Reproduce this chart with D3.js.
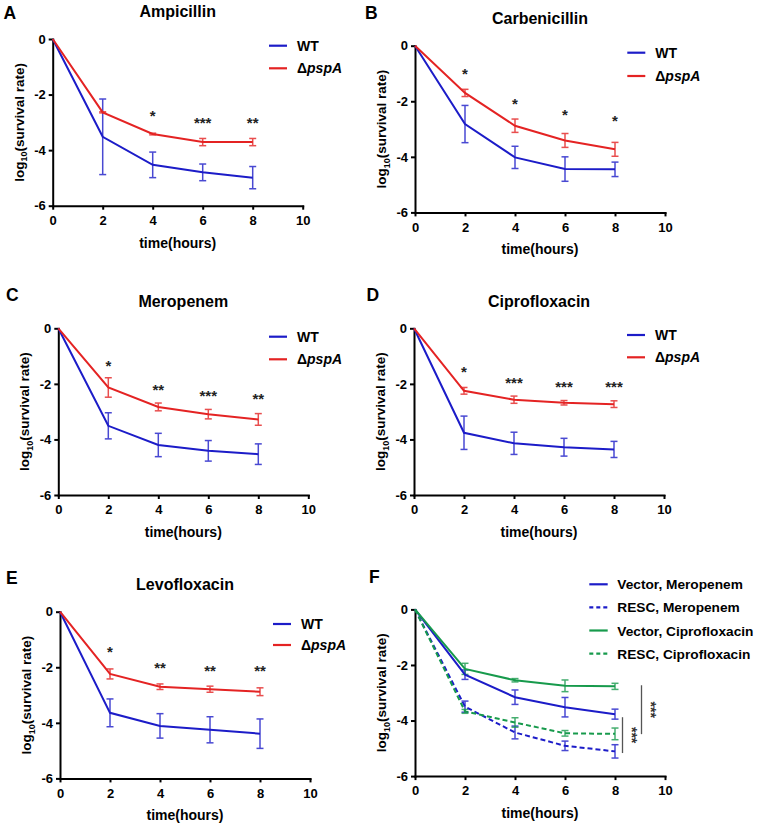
<!DOCTYPE html>
<html><head><meta charset="utf-8">
<script src="https://cdn.jsdelivr.net/npm/d3@7"></script>
<style>html,body{margin:0;padding:0;background:#fff;}</style>
</head><body>
<svg id="chart" width="758" height="825"></svg>
<script>
// ---------------- DATA ----------------
const times = [0, 2, 4, 6, 8];
const xTicks = [0, 2, 4, 6, 8, 10];
const yTicks = [0, -2, -4, -6];
const titles = ["Ampicillin", "Carbenicillin", "Meropenem", "Ciprofloxacin", "Levofloxacin", ""];
const panelLetters = ["A", "B", "C", "D", "E", "F"];
const seriesNamesWT = ["WT", "ΔpspA"];
const seriesNamesF = ["Vector, Meropenem", "RESC, Meropenem", "Vector, Ciprofloxacin", "RESC, Ciprofloxacin"];

// A: Ampicillin
const ampWT = [0, -3.52, -4.53, -4.80, -4.99];
const ampWTsd = [0, 1.36, 0.46, 0.30, 0.40];
const ampPsp = [0, -2.64, -3.42, -3.71, -3.71];
const ampPspSd = [0, 0.02, 0.03, 0.13, 0.13];
const ampStars = ["", "", "*", "***", "**"];
const ampStarY = [0, 0, -2.65, -2.88, -2.88];
// B: Carbenicillin
const carWT = [0, -2.82, -4.02, -4.44, -4.45];
const carWTsd = [0, 0.67, 0.40, 0.44, 0.26];
const carPsp = [0, -1.70, -2.88, -3.41, -3.73];
const carPspSd = [0, 0.13, 0.24, 0.25, 0.25];
const carStars = ["", "*", "*", "*", "*"];
const carStarY = [0, -0.89, -1.98, -2.36, -2.58];
// C: Meropenem
const merWT = [0, -3.51, -4.20, -4.41, -4.53];
const merWTsd = [0, 0.47, 0.42, 0.37, 0.37];
const merPsp = [0, -2.13, -2.83, -3.09, -3.28];
const merPspSd = [0, 0.35, 0.14, 0.17, 0.21];
const merStars = ["", "*", "**", "***", "**"];
const merStarY = [0, -1.22, -2.08, -2.31, -2.40];
// D: Ciprofloxacin
const ciWT = [0, -3.76, -4.14, -4.28, -4.36];
const ciWTsd = [0, 0.60, 0.40, 0.32, 0.29];
const ciPsp = [0, -2.25, -2.57, -2.68, -2.73];
const ciPspSd = [0, 0.12, 0.13, 0.08, 0.12];
const ciStars = ["", "*", "***", "***", "***"];
const ciStarY = [0, -1.43, -1.84, -1.98, -2.00];
// E: Levofloxacin
const levWT = [0, -3.64, -4.11, -4.25, -4.39];
const levWTsd = [0, 0.50, 0.44, 0.47, 0.53];
const levPsp = [0, -2.24, -2.70, -2.79, -2.88];
const levPspSd = [0, 0.18, 0.10, 0.11, 0.14];
const levStars = ["", "*", "**", "**", "**"];
const levStarY = [0, -1.32, -1.90, -1.99, -2.02];
// F: complementation
const vecMer = [0, -2.35, -3.16, -3.52, -3.77];
const vecMerSd = [0, 0.17, 0.26, 0.35, 0.18];
const rescMer = [0, -3.50, -4.43, -4.91, -5.11];
const rescMerSd = [0, 0.20, 0.23, 0.17, 0.24];
const vecCip = [0, -2.14, -2.55, -2.75, -2.77];
const vecCipSd = [0, 0.20, 0.06, 0.21, 0.11];
const rescCip = [0, -3.67, -4.07, -4.46, -4.48];
const rescCipSd = [0, 0.07, 0.17, 0.10, 0.21];
const fBracketX = [8.3, 9.06];
const fBracketFrom = [-3.88, -2.73];
const fBracketTo = [-5.17, -4.49];
const fBracketLabel = ["***", "***"];

// ---------------- STYLE / LAYOUT ----------------
const FONT = "Arial, 'Liberation Sans', Helvetica, sans-serif";
const BLUE = "#1c1cc8", RED = "#e42323", GREEN = "#179a4c";
const PW = 250, PH = 166.7;
const layout = [
  {left: 52.7, top: 39.0, lx: 3.5, ly: 18.7, legX: 269.0, legY: 45.7, legDy: 22.6},
  {left: 415.0, top: 45.7, lx: 365.0, ly: 18.7, legX: 627.3, legY: 52.7, legDy: 23.3},
  {left: 58.3, top: 328.3, lx: 6.0, ly: 301.0, legX: 269.0, legY: 336.7, legDy: 22.6},
  {left: 414.0, top: 328.3, lx: 366.5, ly: 301.0, legX: 627.0, legY: 335.0, legDy: 22.3},
  {left: 60.0, top: 611.7, lx: 6.0, ly: 584.3, legX: 273.0, legY: 624.0, legDy: 21.0},
  {left: 415.0, top: 609.4, lx: 369.0, ly: 582.7, legX: 589.3, legY: 584.3, legDy: 23.1}
];

const svg = d3.select("#chart");
svg.append("rect").attr("width", 758).attr("height", 825).attr("fill", "#fff");

function drawPanel(idx, series, stars, starY) {
  const L = layout[idx];
  const g = svg.append("g");
  const x = d3.scaleLinear().domain([0, 10]).range([L.left, L.left + PW]);
  const y = d3.scaleLinear().domain([0, -6]).range([L.top, L.top + PH]);

  // axes
  const xa = g.append("g").attr("transform", `translate(0,${y(-6)})`)
    .call(d3.axisBottom(x).tickValues(xTicks).tickSize(4).tickSizeOuter(0).tickPadding(6).tickFormat(d => String(d)));
  const ya = g.append("g").attr("transform", `translate(${x(0)},0)`)
    .call(d3.axisLeft(y).tickValues(yTicks).tickSize(4).tickSizeOuter(0).tickPadding(3).tickFormat(d => String(d)));
  [xa, ya].forEach(a => {
    a.select(".domain").attr("stroke", "#000").attr("stroke-width", 2).attr("stroke-linecap", "square");
    a.selectAll(".tick line").attr("stroke", "#000").attr("stroke-width", 2);
    a.selectAll(".tick text").attr("fill", "#000").style("font-family", FONT)
      .style("font-size", "13px").style("font-weight", "bold");
  });

  // error bars
  series.forEach(s => {
    const eg = g.append("g").attr("stroke", s.color).attr("stroke-width", 1.5).attr("opacity", 0.8);
    times.forEach((t, i) => {
      if (i === 0) return;
      const cx = x(t), y1 = y(s.vals[i] + s.sd[i]), y2 = y(s.vals[i] - s.sd[i]);
      eg.append("line").attr("x1", cx).attr("x2", cx).attr("y1", y1).attr("y2", y2);
      eg.append("line").attr("x1", cx - 3.5).attr("x2", cx + 3.5).attr("y1", y1).attr("y2", y1);
      eg.append("line").attr("x1", cx - 3.5).attr("x2", cx + 3.5).attr("y1", y2).attr("y2", y2);
    });
  });
  // lines
  const line = d3.line().x((d, i) => x(times[i])).y(d => y(d));
  series.forEach(s => {
    g.append("path").attr("d", line(s.vals)).attr("fill", "none")
      .attr("stroke", s.color).attr("stroke-width", 2)
      .attr("stroke-dasharray", s.dash ? "5,3" : null);
  });

  // stars
  if (stars) {
    times.forEach((t, i) => {
      if (!stars[i]) return;
      g.append("text").attr("x", x(t)).attr("y", y(starY[i]) + 8.6)
        .attr("text-anchor", "middle").style("font-family", FONT)
        .style("font-size", "15px").style("font-weight", "bold").attr("fill", "#222")
        .text(stars[i]);
    });
  }

  // title
  if (titles[idx]) {
    g.append("text").attr("x", (x(0) + x(10)) / 2).attr("y", L.top - 21.6)
      .attr("text-anchor", "middle").style("font-family", FONT)
      .style("font-size", "16px").style("font-weight", "bold").text(titles[idx]);
  }
  // panel letter
  g.append("text").attr("x", L.lx).attr("y", L.ly).style("font-family", FONT)
    .style("font-size", "17.5px").style("font-weight", "bold").text(panelLetters[idx]);

  // x label
  g.append("text").attr("x", (x(0) + x(10)) / 2).attr("y", y(-6) + 42)
    .attr("text-anchor", "middle").style("font-family", FONT)
    .style("font-size", "14px").style("font-weight", "bold").text("time(hours)");
  // y label
  const yl = g.append("text")
    .attr("transform", `translate(${x(0) - 29},${(y(0) + y(-6)) / 2}) rotate(-90)`)
    .attr("text-anchor", "middle").style("font-family", FONT)
    .style("font-size", "13.5px").style("font-weight", "bold");
  yl.append("tspan").text("log");
  yl.append("tspan").attr("dy", 3.5).style("font-size", "9px").text("10");
  yl.append("tspan").attr("dy", -3.5).text("(survival rate)");

  return {g, x, y, L};
}

function legendWT(P) {
  const L = P.L;
  const items = [{c: BLUE}, {c: RED}];
  items.forEach((it, i) => {
    const yy = L.legY + i * L.legDy;
    P.g.append("line").attr("x1", L.legX).attr("x2", L.legX + 18).attr("y1", yy).attr("y2", yy)
      .attr("stroke", it.c).attr("stroke-width", 2.2);
    const t = P.g.append("text").attr("x", L.legX + 28).attr("y", yy + 5)
      .style("font-family", FONT).style("font-size", "14px").style("font-weight", "bold");
    if (i === 0) t.text(seriesNamesWT[0]);
    else {
      t.append("tspan").text(seriesNamesWT[1].slice(0, 1));
      t.append("tspan").style("font-style", "italic").text(seriesNamesWT[1].slice(1));
    }
  });
}

const wtPanels = [
  [ampWT, ampWTsd, ampPsp, ampPspSd, ampStars, ampStarY],
  [carWT, carWTsd, carPsp, carPspSd, carStars, carStarY],
  [merWT, merWTsd, merPsp, merPspSd, merStars, merStarY],
  [ciWT, ciWTsd, ciPsp, ciPspSd, ciStars, ciStarY],
  [levWT, levWTsd, levPsp, levPspSd, levStars, levStarY]
];
wtPanels.forEach((p, idx) => {
  const P = drawPanel(idx, [
    {vals: p[0], sd: p[1], color: BLUE},
    {vals: p[2], sd: p[3], color: RED}
  ], p[4], p[5]);
  legendWT(P);
});

// Panel F
const fSeries = [
  {vals: vecMer, sd: vecMerSd, color: BLUE, dash: false},
  {vals: rescMer, sd: rescMerSd, color: BLUE, dash: true},
  {vals: vecCip, sd: vecCipSd, color: GREEN, dash: false},
  {vals: rescCip, sd: rescCipSd, color: GREEN, dash: true}
];
const PF = drawPanel(5, fSeries, null, null);
fSeries.forEach((s, i) => {
  const L = PF.L, yy = L.legY + i * L.legDy;
  PF.g.append("line").attr("x1", L.legX).attr("x2", L.legX + 18.4).attr("y1", yy).attr("y2", yy)
    .attr("stroke", s.color).attr("stroke-width", 2.2).attr("stroke-dasharray", s.dash ? "4,3" : null);
  PF.g.append("text").attr("x", L.legX + 28).attr("y", yy + 5)
    .style("font-family", FONT).style("font-size", "13.7px").style("font-weight", "bold")
    .text(seriesNamesF[i]);
});
fBracketX.forEach((bx, i) => {
  const xx = PF.x(bx);
  PF.g.append("line").attr("x1", xx).attr("x2", xx)
    .attr("y1", PF.y(fBracketFrom[i])).attr("y2", PF.y(fBracketTo[i]))
    .attr("stroke", "#555").attr("stroke-width", 1.3);
  const cy = (PF.y(fBracketFrom[i]) + PF.y(fBracketTo[i])) / 2;
  PF.g.append("text")
    .attr("transform", `translate(${xx + 7.5},${cy}) rotate(90)`)
    .attr("text-anchor", "middle").attr("dy", "0.25em")
    .style("font-family", FONT).style("font-size", "14px").style("font-weight", "bold")
    .attr("fill", "#333").text(fBracketLabel[i]);
});
</script>
</body></html>
